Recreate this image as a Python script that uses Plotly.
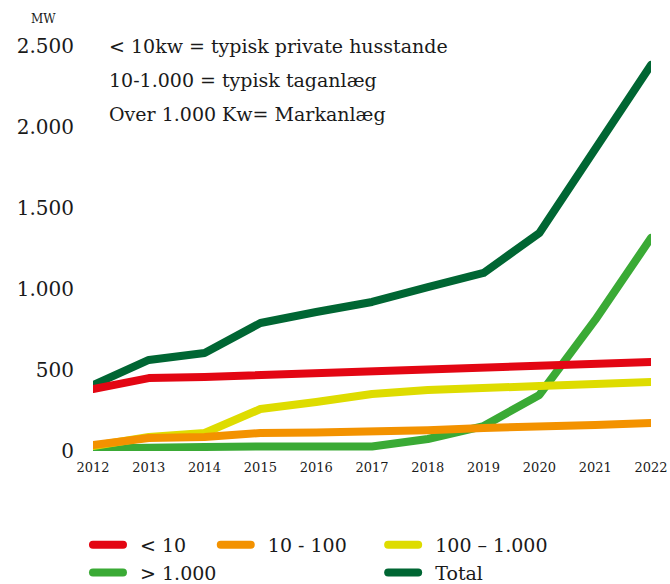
import plotly.graph_objects as go

years = [2012, 2013, 2014, 2015, 2016, 2017, 2018, 2019, 2020, 2021, 2022]
under_10 = [383, 450, 457, 469, 478, 488, 498, 512, 525, 535, 549]
s10_100 = [37, 80, 86, 111, 114, 117, 128, 142, 148, 160, 173]
s100_1000 = [31, 86, 111, 259, 302, 352, 377, 383, 401, 414, 426]
over_1000 = [15, 25, 25, 28, 28, 28, 74, 154, 346, 809, 1315]
total = [407, 562, 605, 790, 858, 920, 1012, 1099, 1346, 1858, 2383]

ytickvals = [0, 500, 1000, 1500, 2000, 2500]
yticktext = ["0", "500", "1.000", "1.500", "2.000", "2.500"]

notes = ["< 10kw = typisk private husstande", "10-1.000 = typisk taganlæg", "Over 1.000 Kw= Markanlæg"]

FONT = "DejaVu Serif"
# drawn bottom to top
series = [
    ("Total", total, "#006633", "legend3"),
    ("> 1.000", over_1000, "#3aaa35", "legend"),
    ("100 – 1.000", s100_1000, "#dedc00", "legend3"),
    ("10 - 100", s10_100, "#f39200", "legend2"),
    ("< 10", under_10, "#e30613", "legend"),
]

fig = go.Figure()
for name, vals, col, lg in series:
    fig.add_trace(go.Scatter(x=years, y=vals, name="\u00a0\u00a0" + name, mode="lines",
                             line=dict(color=col, width=8), legend=lg, cliponaxis=False))

legcommon = dict(orientation="v", yanchor="top", xanchor="left", bgcolor="rgba(0,0,0,0)",
                 font=dict(family=FONT, size=19, color="#1a1a1a"), itemwidth=30,
                 tracegroupgap=0, xref="paper", yref="paper", traceorder="reversed")
LY = -0.185
fig.update_layout(
    width=670, height=584,
    margin=dict(l=93, r=19, t=46, b=133, autoexpand=False),
    plot_bgcolor="white", paper_bgcolor="white",
    font=dict(family=FONT, color="#1a1a1a"),
    showlegend=True,
    legend=dict(x=-0.009, y=LY, **legcommon),
    legend2=dict(x=0.22, y=LY, **legcommon),
    legend3=dict(x=0.52, y=LY, **legcommon),
    xaxis=dict(range=[2012, 2022], tickvals=years, ticks="", showgrid=False, zeroline=False,
               showline=False, ticklabelstandoff=7,
               tickfont=dict(family=FONT, size=13, color="#1a1a1a")),
    yaxis=dict(range=[0, 2500], tickvals=ytickvals, ticktext=yticktext, showgrid=False,
               zeroline=False, showline=False, ticks="", ticklabelstandoff=18,
               tickfont=dict(family=FONT, size=20, color="#1a1a1a")),
)

fig.add_annotation(text="MW", xref="paper", yref="paper", x=-0.088, y=1.0, yshift=27,
                   showarrow=False, xanchor="center", yanchor="middle",
                   font=dict(family=FONT, size=12, color="#1a1a1a"))
for i, t in enumerate(notes):
    fig.add_annotation(text=t, xref="paper", yref="paper", x=0.025, y=1.0, yshift=-34 * i,
                       showarrow=False, xanchor="left", yanchor="middle",
                       font=dict(family=FONT, size=19, color="#1a1a1a"))

post = """
var s=document.createElement('style');
s.innerHTML='html,body{margin:0;padding:0;overflow:hidden;} .scatterlayer .js-line, .legendlines path {stroke-linecap:round !important; stroke-linejoin:round !important;}';
document.head.appendChild(s);
"""
fig.write_html("out.html", post_script=post, config={"displayModeBar": False})
